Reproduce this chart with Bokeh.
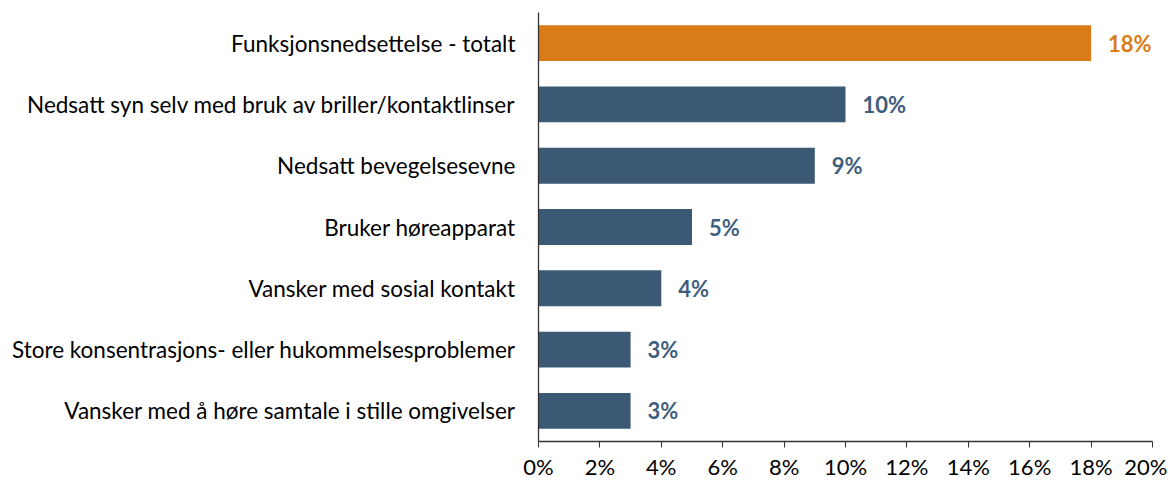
from bokeh.plotting import figure
from bokeh.models import ColumnDataSource, FactorRange, Range1d, NumeralTickFormatter, FixedTicker, LabelSet
from bokeh.core.properties import value
from bokeh.embed import file_html
from bokeh.resources import INLINE

categories = [
    "Funksjonsnedsettelse - totalt",
    "Nedsatt syn selv med bruk av briller/kontaktlinser",
    "Nedsatt bevegelsesevne",
    "Bruker høreapparat",
    "Vansker med sosial kontakt",
    "Store konsentrasjons- eller hukommelsesproblemer",
    "Vansker med å høre samtale i stille omgivelser",
]
values = [18, 10, 9, 5, 4, 3, 3]
bar_colors = ["#D97C17", "#3B5875", "#3B5875", "#3B5875", "#3B5875", "#3B5875", "#3B5875"]
label_colors = ["#D97C17", "#3F5E7E", "#3F5E7E", "#3F5E7E", "#3F5E7E", "#3F5E7E", "#3F5E7E"]
tick_values = [0, 2, 4, 6, 8, 10, 12, 14, 16, 18, 20]

FONT = "Lato"

src = ColumnDataSource(dict(
    cat=categories,
    val=[v / 100 for v in values],
    color=bar_colors,
    lcolor=label_colors,
    txt=[f"{v}%" for v in values],
))

p = figure(
    width=1167, height=482,
    y_range=FactorRange(*reversed(categories), range_padding=0),
    x_range=Range1d(0, 0.20),
    output_backend="svg", toolbar_location=None,
    min_border_left=538, min_border_right=15, min_border_top=12, min_border_bottom=39,
)
p.hbar(y="cat", right="val", left=0, height=0.585, fill_color="color", line_color=None, source=src)

labels = LabelSet(x="val", y="cat", text="txt", source=src, x_offset=17,
                  text_color="lcolor", text_font=value(FONT), text_font_style="bold",
                  text_font_size="22px", text_baseline="middle", text_align="left")
p.add_layout(labels)

p.xgrid.visible = False
p.ygrid.visible = False
p.outline_line_color = None

xa = p.xaxis[0]
xa.ticker = FixedTicker(ticks=[t / 100 for t in tick_values])
xa.formatter = NumeralTickFormatter(format="0%")
xa.minor_tick_line_color = None
xa.major_tick_in = 0
xa.major_tick_out = 6
xa.major_tick_line_color = "#333333"
xa.axis_line_color = "#333333"
xa.axis_line_width = 1.3
xa.major_label_text_font = FONT
xa.major_label_text_font_size = "22px"
xa.major_label_text_color = "#000000"
xa.major_label_standoff = 5

ya = p.yaxis[0]
ya.major_tick_line_color = None
ya.minor_tick_line_color = None
ya.axis_line_color = "#333333"
ya.axis_line_width = 1.3
ya.major_label_text_font = FONT
ya.major_label_text_font_size = "22.5px"
ya.major_label_text_color = "#000000"
ya.major_label_standoff = 17

open("out.html", "w").write(file_html(p, INLINE))
